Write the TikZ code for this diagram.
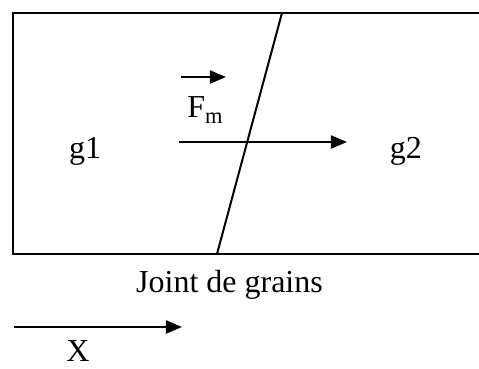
\documentclass[tikz,border=0pt]{standalone}
\usepackage{fontspec}
\setmainfont{Liberation Serif}
\usetikzlibrary{arrows.meta}
\begin{document}
\begin{tikzpicture}[x=0.5pt,y=-0.5pt,
  lbl/.style={inner sep=0pt,anchor=base,font=\fontsize{16}{19}\selectfont},
  arr/.style={line width=1pt,-{Triangle[length=8pt,width=6.5pt]}},
  frame/.style={line width=1.3pt},
  gb/.style={line width=1pt}]
\useasboundingbox (0,0) rectangle (479,369);
% grain frame (open on the right, cut by the picture edge)
\coordinate (tr) at (479,13);
\coordinate (tl) at (13,13);
\coordinate (bl) at (13,254);
\coordinate (br) at (479,254);
\draw[frame] (tr) -- (tl) -- (bl) -- (br);
% grain boundary
\coordinate (jt) at (282,13);
\coordinate (jb) at (217,254);
\draw[gb] (jt) -- (jb);
% labels
\node[lbl] (g1) at (85,159) {g1};
\node[lbl] (g2) at (406,159) {g2};
\node[lbl,anchor=base west] (fm) at (187,118) {F\textsubscript{m}};
\node[lbl] (joint) at (229.5,293) {Joint de grains};
\node[lbl] (xl) at (78,362) {X};
% arrows
\coordinate (fa1) at (181,77);
\coordinate (fa2) at (226,77);
\draw[arr] (fa1) -- (fa2);
\coordinate (la1) at (179,142);
\coordinate (la2) at (347,142);
\draw[arr] (la1) -- (la2);
\coordinate (xa1) at (14,327);
\coordinate (xa2) at (182,327);
\draw[arr] (xa1) -- (xa2);
\end{tikzpicture}
\end{document}
